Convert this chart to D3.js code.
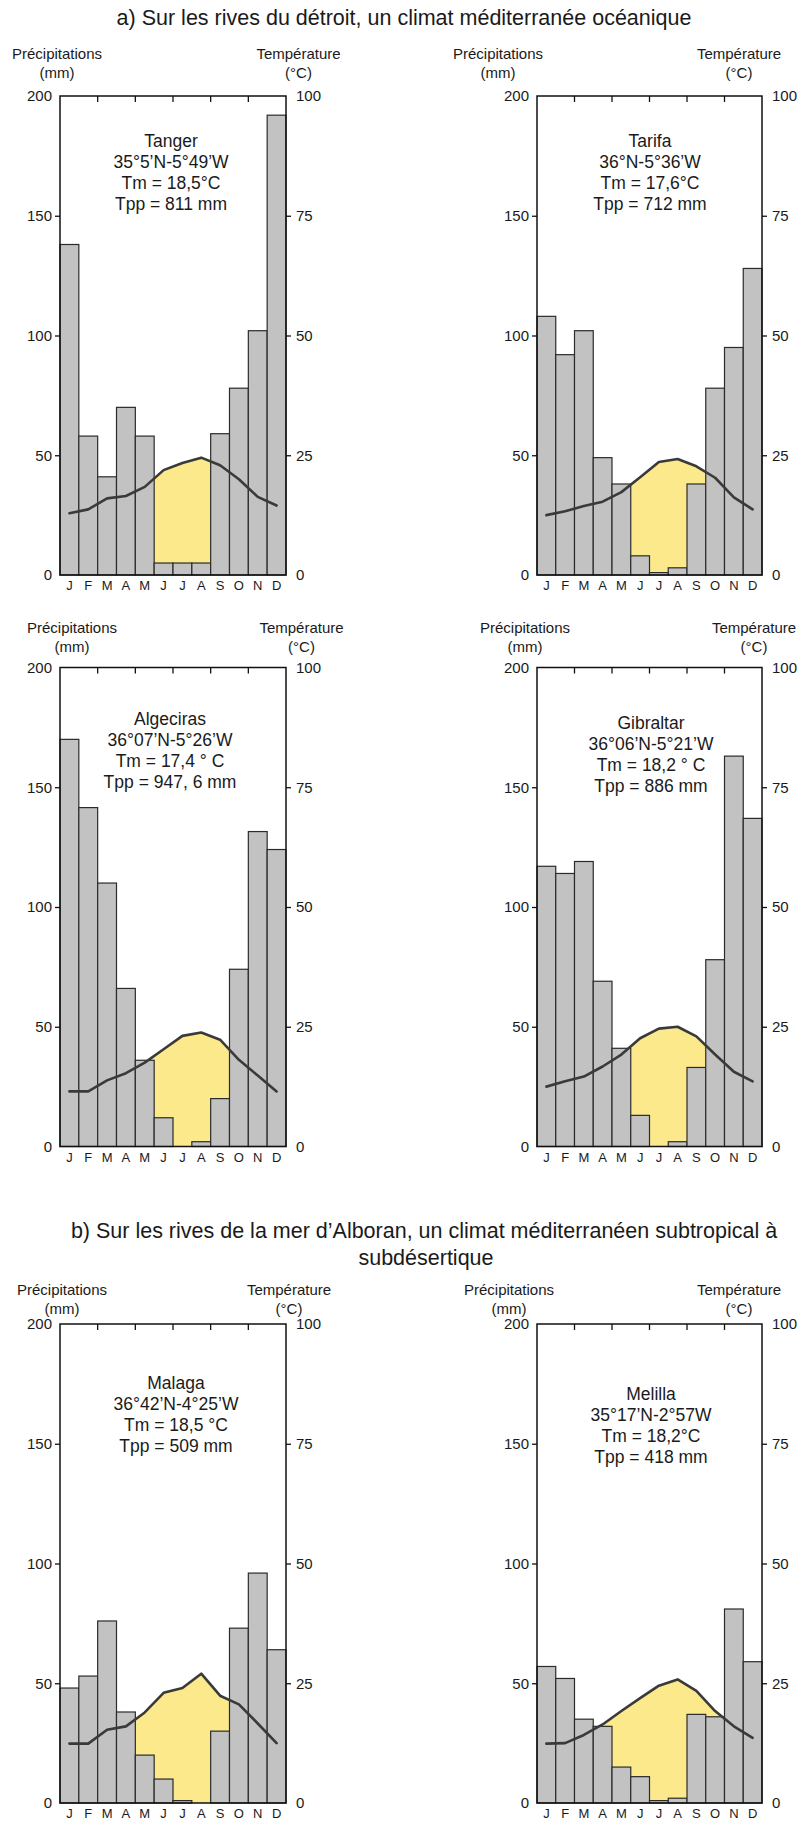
<!DOCTYPE html>
<html><head><meta charset="utf-8">
<script src="https://cdn.jsdelivr.net/npm/d3@7"></script>
<style>
body{margin:0;background:#fff}
svg{display:block}
text{font-family:"Liberation Sans",Arial,Helvetica,sans-serif}
</style>
</head><body>
<script>
// ---------- DATA ----------
const months = ["J","F","M","A","M","J","J","A","S","O","N","D"];
const precipTicks = [0, 50, 100, 150, 200];
const tempTicks = [0, 25, 50, 75, 100];

const titleA = "a) Sur les rives du détroit, un climat méditerranée océanique";
const titleB1 = "b) Sur les rives de la mer d’Alboran, un climat méditerranéen subtropical à";
const titleB2 = "subdésertique";

const stationNames = ["Tanger", "Tarifa", "Algeciras", "Gibraltar", "Malaga", "Melilla"];
const stationCoords = ["35°5’N-5°49’W", "36°N-5°36’W", "36°07’N-5°26’W", "36°06’N-5°21’W", "36°42’N-4°25’W", "35°17’N-2°57W"];
const stationTm = ["Tm = 18,5°C", "Tm = 17,6°C", "Tm = 17,4 ° C", "Tm = 18,2 ° C", "Tm = 18,5 °C", "Tm = 18,2°C"];
const stationTpp = ["Tpp = 811 mm", "Tpp = 712 mm", "Tpp = 947, 6 mm", "Tpp = 886 mm", "Tpp = 509 mm", "Tpp = 418 mm"];

const precipTanger    = [138, 58, 41, 70, 58, 5, 5, 5, 59, 78, 102, 192];
const tempTanger      = [12.9, 13.7, 16.0, 16.5, 18.4, 21.9, 23.4, 24.5, 22.9, 20.0, 16.3, 14.5];
const precipTarifa    = [108, 92, 102, 49, 38, 8, 1, 3, 38, 78, 95, 128];
const tempTarifa      = [12.5, 13.3, 14.4, 15.3, 17.3, 20.4, 23.6, 24.2, 22.7, 20.3, 16.2, 13.7];
const precipAlgeciras = [170, 141.5, 110, 66, 36, 12, 0, 2, 20, 74, 131.5, 124];
const tempAlgeciras   = [11.5, 11.5, 13.8, 15.3, 17.5, 20.3, 23.1, 23.8, 22.3, 18.1, 14.8, 11.5];
const precipGibraltar = [117, 114, 119, 69, 41, 13, 0, 2, 33, 78, 163, 137];
const tempGibraltar   = [12.5, 13.6, 14.6, 16.7, 19.2, 22.6, 24.6, 25.0, 23.0, 19.2, 15.6, 13.6];
const precipMalaga    = [48, 53, 76, 38, 20, 10, 1, 0, 30, 73, 96, 64];
const tempMalaga      = [12.4, 12.4, 15.3, 16.0, 18.9, 23.0, 24.0, 27.0, 22.4, 20.6, 16.6, 12.5];
const precipMelilla   = [57, 52, 35, 32, 15, 11, 1, 2, 37, 36, 81, 59];
const tempMelilla     = [12.4, 12.5, 14.2, 16.4, 19.2, 21.9, 24.5, 25.8, 23.4, 19.2, 16.0, 13.6];

const precipSeries = [precipTanger, precipTarifa, precipAlgeciras, precipGibraltar, precipMalaga, precipMelilla];
const tempSeries = [tempTanger, tempTarifa, tempAlgeciras, tempGibraltar, tempMalaga, tempMelilla];

// ---------- LAYOUT ----------
const W = 799, H = 1823, PH = 479;
const layout = [
  {x0: 60,  x1: 286, top: 96,    hL: 57,  hR: 298.5, hY: 58.5,  lx: 171, ly: 51},
  {x0: 537, x1: 762, top: 96,    hL: 498, hR: 739,   hY: 58.5,  lx: 650, ly: 51},
  {x0: 60,  x1: 286, top: 667.5, hL: 72,  hR: 301.5, hY: 632.7, lx: 170, ly: 57.7},
  {x0: 537, x1: 762, top: 667.5, hL: 525, hR: 754,   hY: 632.7, lx: 651, ly: 61.4},
  {x0: 60,  x1: 286, top: 1324,  hL: 62,  hR: 289,   hY: 1295,  lx: 176, ly: 64.6},
  {x0: 537, x1: 762, top: 1324,  hL: 509, hR: 739,   hY: 1295,  lx: 651, ly: 75.7}
];
const COL = {bar: "#c2c2c2", barStroke: "#2b2b2b", yellow: "#fce98b", line: "#3a3a3a", text: "#1a1a1a"};

const svg = d3.select("body").append("svg").attr("width", W).attr("height", H);
svg.append("rect").attr("width", W).attr("height", H).attr("fill", "#fff");

// titles
svg.append("text").attr("x", 404).attr("y", 25).attr("text-anchor", "middle")
  .attr("font-size", 21.5).attr("fill", COL.text).text(titleA);
svg.append("text").attr("x", 424).attr("y", 1238).attr("text-anchor", "middle")
  .attr("font-size", 21.5).attr("fill", COL.text).text(titleB1);
svg.append("text").attr("x", 426).attr("y", 1265).attr("text-anchor", "middle")
  .attr("font-size", 21.5).attr("fill", COL.text).text(titleB2);

layout.forEach((L, k) => {
  const P = precipSeries[k], T = tempSeries[k];
  const bottom = L.top + PH;
  const g = svg.append("g");

  const x = d3.scaleBand().domain(d3.range(12)).range([L.x0, L.x1]).padding(0);
  const bw = x.bandwidth();
  const yP = d3.scaleLinear().domain([0, 200]).range([bottom, L.top]);
  const yT = d3.scaleLinear().domain([0, 100]).range([bottom, L.top]);

  // headers
  const hdr = g.append("g").attr("font-size", 15).attr("fill", COL.text).attr("text-anchor", "middle");
  hdr.append("text").attr("x", L.hL).attr("y", L.hY).text("Précipitations");
  hdr.append("text").attr("x", L.hL).attr("y", L.hY + 19).text("(mm)");
  hdr.append("text").attr("x", L.hR).attr("y", L.hY).text("Température");
  hdr.append("text").attr("x", L.hR).attr("y", L.hY + 19).text("(°C)");

  // yellow dry area under the temperature curve
  const cx = (d, i) => x(i) + bw / 2;
  g.append("path").datum(T)
    .attr("d", d3.area().x(cx).y0(yP(0)).y1(d => yT(d)))
    .attr("fill", COL.yellow);

  // bars
  g.append("g").selectAll("rect").data(P).join("rect")
    .attr("x", (d, i) => x(i)).attr("width", bw)
    .attr("y", d => yP(d)).attr("height", d => yP(0) - yP(d))
    .attr("fill", COL.bar).attr("stroke", COL.barStroke).attr("stroke-width", 1.2);

  // temperature line
  g.append("path").datum(T)
    .attr("d", d3.line().x(cx).y(d => yT(d)))
    .attr("fill", "none").attr("stroke", COL.line).attr("stroke-width", 2.6)
    .attr("stroke-linejoin", "round").attr("stroke-linecap", "round");

  // frame
  g.append("rect").attr("x", L.x0).attr("y", L.top)
    .attr("width", L.x1 - L.x0).attr("height", PH)
    .attr("fill", "none").attr("stroke", "#111").attr("stroke-width", 1.5);

  // top inner ticks every two months
  g.append("g").selectAll("line").data([2, 4, 6, 8, 10]).join("line")
    .attr("x1", d => x(d)).attr("x2", d => x(d))
    .attr("y1", L.top).attr("y2", L.top + 6)
    .attr("stroke", "#111").attr("stroke-width", 1.3);

  // left axis
  const ax = g.append("g").attr("transform", `translate(${L.x0},0)`)
    .call(d3.axisLeft(yP).tickValues(precipTicks).tickSize(5).tickPadding(3).tickSizeOuter(0));
  ax.select(".domain").remove();
  ax.selectAll("text").attr("font-size", 15).attr("font-family", "Liberation Sans, Arial, sans-serif").attr("fill", COL.text);
  ax.selectAll("line").attr("stroke", "#111").attr("stroke-width", 1.3)
    .attr("opacity", d => (d === 0 || d === 200) ? 0 : 1);

  // right axis
  const ay = g.append("g").attr("transform", `translate(${L.x1},0)`)
    .call(d3.axisRight(yT).tickValues(tempTicks).tickSize(5).tickPadding(5).tickSizeOuter(0));
  ay.select(".domain").remove();
  ay.selectAll("text").attr("font-size", 15).attr("font-family", "Liberation Sans, Arial, sans-serif").attr("fill", COL.text);
  ay.selectAll("line").attr("stroke", "#111").attr("stroke-width", 1.3)
    .attr("opacity", d => (d === 0 || d === 100) ? 0 : 1);

  // month labels
  const am = g.append("g").attr("transform", `translate(0,${bottom})`)
    .call(d3.axisBottom(x).tickSize(0).tickPadding(6).tickFormat(i => months[i]));
  am.select(".domain").remove();
  am.selectAll("text").attr("font-size", 13).attr("font-family", "Liberation Sans, Arial, sans-serif").attr("fill", COL.text);

  // station label
  const lab = g.append("g").attr("font-size", 17.5).attr("fill", COL.text).attr("text-anchor", "middle");
  [stationNames[k], stationCoords[k], stationTm[k], stationTpp[k]].forEach((t, j) => {
    lab.append("text").attr("x", L.lx).attr("y", L.top + L.ly + j * 21).text(t);
  });
});
</script>
</body></html>
